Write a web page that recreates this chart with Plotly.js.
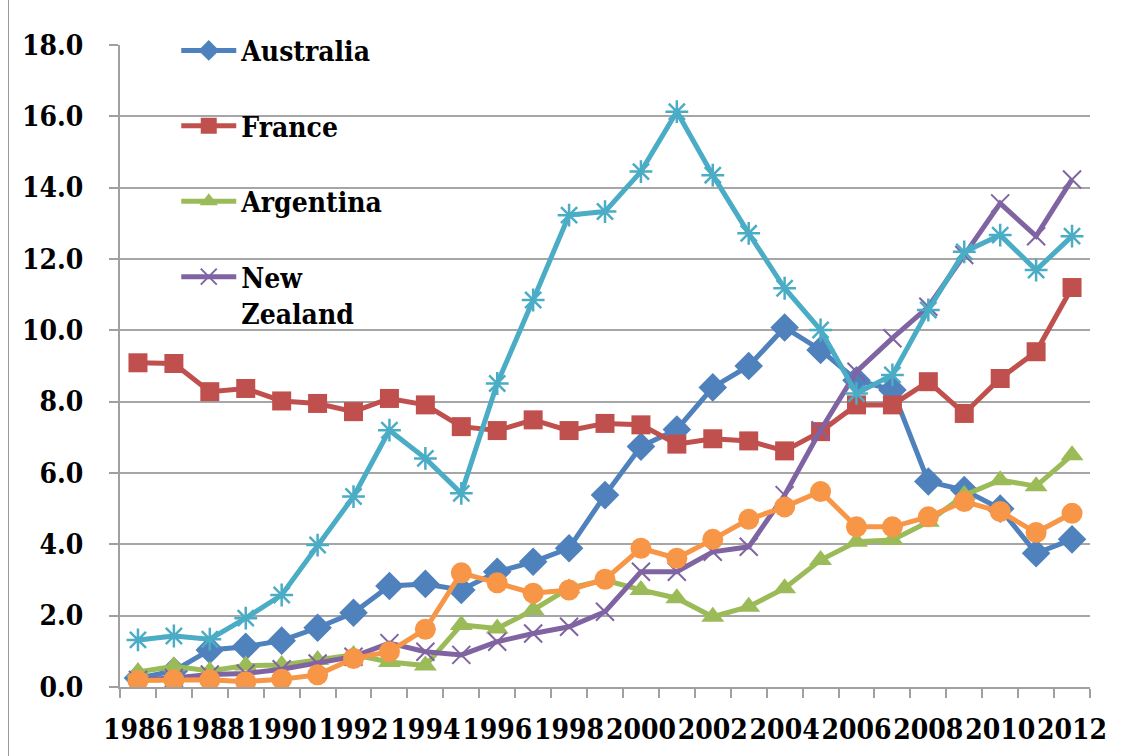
<!DOCTYPE html>
<html>
<head>
<meta charset="utf-8">
<script src="https://cdn.plot.ly/plotly-3.0.1.min.js"></script>
<style>
  html, body { margin: 0; padding: 0; background: #fff; }
  #wrap { position: relative; width: 1136px; height: 756px; overflow: hidden; }
  #frame { position: absolute; left: 8px; top: -10px; width: 1200px; height: 800px; border-left: 1.5px solid #9a9a9a; pointer-events: none; }
  #chart { position: absolute; left: 0; top: 0; width: 1136px; height: 756px; }
</style>
</head>
<body>
<div id="wrap">
  <div id="chart"></div>
  <div id="frame"></div>
</div>
<script>
const years = [1986,1987,1988,1989,1990,1991,1992,1993,1994,1995,1996,1997,1998,1999,2000,2001,2002,2003,2004,2005,2006,2007,2008,2009,2010,2011,2012];

const australia = [0.25,0.45,1.04,1.13,1.30,1.66,2.08,2.83,2.89,2.72,3.23,3.51,3.89,5.38,6.74,7.22,8.40,9.00,10.08,9.45,8.60,8.33,5.76,5.52,5.00,3.75,4.14];
const france    = [9.09,9.07,8.28,8.37,8.02,7.95,7.72,8.09,7.91,7.30,7.19,7.49,7.19,7.39,7.35,6.81,6.96,6.90,6.62,7.16,7.91,7.91,8.56,7.67,8.65,9.40,11.20];
const argentina = [0.42,0.58,0.45,0.60,0.62,0.76,0.90,0.70,0.60,1.74,1.64,2.16,2.77,3.00,2.72,2.49,1.97,2.25,2.77,3.56,4.07,4.12,4.63,5.38,5.80,5.63,6.50];
const newZealand= [0.20,0.25,0.35,0.38,0.50,0.66,0.85,1.23,0.99,0.90,1.27,1.50,1.69,2.11,3.23,3.23,3.79,3.93,5.38,7.20,8.84,9.78,10.66,12.11,13.56,12.64,14.23];
const series5   = [1.32,1.43,1.34,1.93,2.58,3.98,5.34,7.20,6.41,5.43,8.51,10.85,13.23,13.33,14.45,16.13,14.35,12.72,11.18,10.01,8.23,8.75,10.57,12.20,12.67,11.69,12.64];
const series6   = [0.18,0.20,0.20,0.15,0.22,0.34,0.80,0.99,1.62,3.20,2.92,2.63,2.72,3.02,3.89,3.61,4.14,4.70,5.05,5.48,4.49,4.49,4.77,5.20,4.92,4.33,4.87];

const tickYears = [1986,1988,1990,1992,1994,1996,1998,2000,2002,2004,2006,2008,2010,2012];

function tr(name, y, color, symbol, size, show, group, lineW) {
  return {
    type: 'scatter', mode: 'lines+markers', x: years, y: y, name: name,
    showlegend: show, legendgroup: group,
    line: { color: color, width: 5 },
    marker: { symbol: symbol, size: size, color: color, line: { color: color, width: lineW || 0 } }
  };
}

const data = [
  tr('Australia', australia, '#4F81BD', 'diamond', 22, true, 'g1'),
  tr('France', france, '#C0504D', 'square', 19, true, 'g2'),
  tr('Argentina', argentina, '#9BBB59', 'triangle-up', 20, true, 'g3'),
  tr('New<br>Zealand', newZealand, '#8064A2', 'x-thin-open', 18, true, 'g4', 2),
  tr('Series 5', series5, '#4BACC6', 'asterisk-open', 19, false, 'g5', 2.5),
  tr('Series 6', series6, '#F79646', 'circle', 21, false, 'g6')
];

const serif = '"DejaVu Serif Condensed", "DejaVu Serif", serif';
const tickFont = { family: serif, size: 28, weight: 'bold', color: '#000' };

const layout = {
  width: 1136, height: 756,
  margin: { l: 120, r: 46, t: 45, b: 69 },
  paper_bgcolor: 'rgba(0,0,0,0)', plot_bgcolor: '#fff',
  showlegend: true,
  legend: {
    x: 0.058, y: 1.03, xanchor: 'left', yanchor: 'top',
    bgcolor: 'rgba(0,0,0,0)', borderwidth: 0,
    traceorder: 'grouped', tracegroupgap: 36, valign: 'top', itemwidth: 55,
    font: { family: serif, size: 28, weight: 'bold', color: '#000' }
  },
  xaxis: {
    type: 'linear', range: [1985.5, 2012.5],
    tickmode: 'array', tickvals: tickYears, ticktext: tickYears.map(String),
    ticks: '', tickangle: 0, tickfont: tickFont, ticklabelstandoff: 16,
    showgrid: false, zeroline: false,
    showline: true, linecolor: '#a0a0a0', linewidth: 2,
    minor: { tick0: 1985.5, dtick: 1, ticks: 'outside', ticklen: 9, tickcolor: '#a0a0a0', tickwidth: 2, showgrid: false }
  },
  yaxis: {
    range: [0, 18], tickmode: 'linear', tick0: 0, dtick: 2, tickformat: '.1f',
    ticks: 'outside', ticklen: 9, tickcolor: '#a0a0a0', tickwidth: 2,
    tickfont: tickFont, ticklabelstandoff: 20,
    showgrid: true, gridcolor: '#a6a6a6', gridwidth: 2, zeroline: false,
    showline: true, linecolor: '#a0a0a0', linewidth: 2
  }
};

Plotly.newPlot('chart', data, layout, { displayModeBar: false, staticPlot: true });
</script>
</body>
</html>
